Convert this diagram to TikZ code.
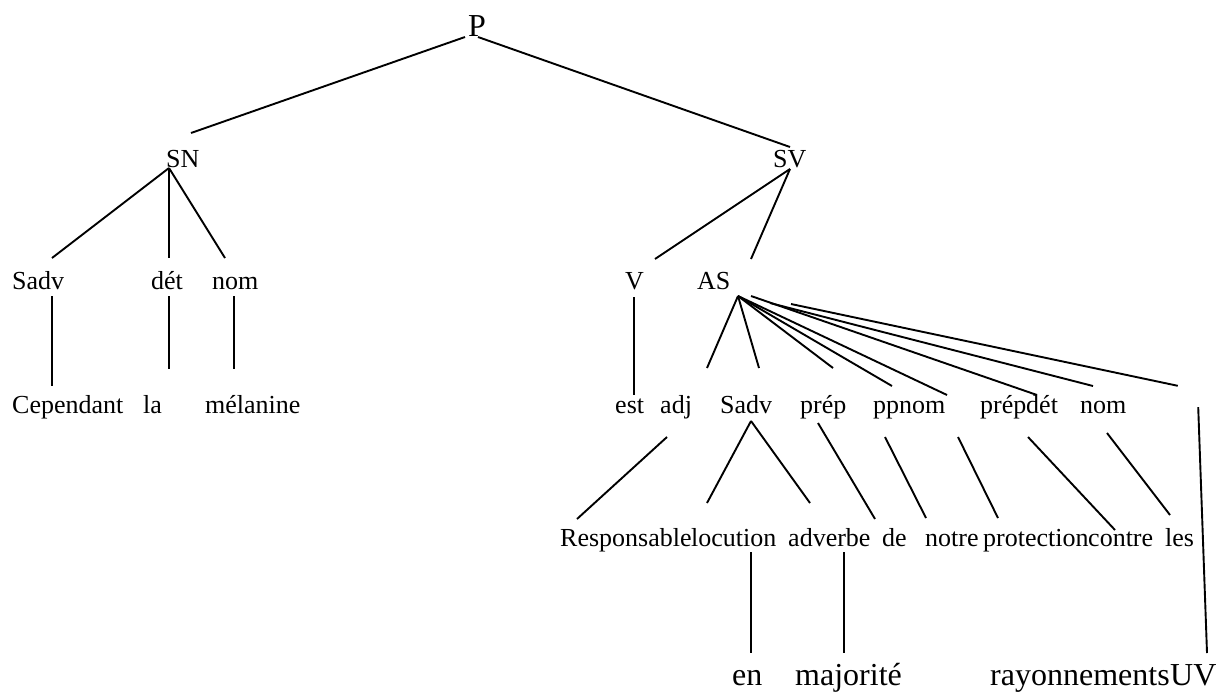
\documentclass[tikz,border=0pt]{standalone}
\usepackage{fontspec}
\setmainfont{Liberation Serif}
\usetikzlibrary{calc}

\tikzset{
  mot/.style={anchor=base west, inner sep=0pt, font=\fontsize{26}{30}\selectfont},
  gros/.style={mot, font=\fontsize{32}{38}\selectfont},
  branche/.style={line width=1.9pt}
}

\begin{document}
\begin{tikzpicture}[x=1pt, y=-1pt]
        \useasboundingbox (0,0) rectangle (1220,691);

        % Nodes at the top (P, SN, SV)
        \node (P) [gros] at (468,36) {P};
        \node (SN) [mot] at (166,167) {SN};
        \node (SV) [mot] at (773,167) {SV};

        % Nodes of the second row
        \node (sadv) [mot] at (12,289) {Sadv};
        \node (det) [mot] at (151,289) {dét};
        \node (nom) [mot] at (212,289) {nom};
        \node (V) [mot] at (625,289) {V};
        \node (AS) [mot] at (697,289) {AS};

        % Nodes of the third row
        \node (cependant) [mot] at (12,413) {Cependant};
        \node (la) [mot] at (143,413) {la};
        \node (melanine) [mot] at (205,413) {mélanine};
        \node (est) [mot] at (615,413) {est};
        \node (adj) [mot] at (660,413) {adj};
        \node (sadvb) [mot] at (720,413) {Sadv};
        \node (prep) [mot] at (800,413) {prép};
        \node (pp) [mot] at (873,413) {pp};
        \node (nomb) [mot] at (899,413) {nom};
        \node (prepb) [mot] at (980,413) {prép};
        \node (detb) [mot] at (1026,413) {dét};
        \node (nomc) [mot] at (1080,413) {nom};
        \node (vide) [inner sep=0pt, minimum width=20pt, minimum height=21pt] at (1188,396.5) {};

        % Nodes of the fourth row
        \node (resp) [mot] at (560,546) {Responsable};
        \node (locution) [mot] at (691,546) {locution};
        \node (adverbe) [mot] at (788,546) {adverbe};
        \node (de) [mot] at (882,546) {de};
        \node (notre) [mot] at (925,546) {notre};
        \node (protection) [mot] at (983,546) {protection};
        \node (contre) [mot] at (1088,546) {contre};
        \node (les) [mot] at (1165,546) {les};

        % Nodes at the bottom
        \node (en) [gros] at (732,685) {en};
        \node (majorite) [gros] at (795,685) {majorité};
        \node (rayon) [gros] at (990,685) {rayonnements};
        \node (UV) [gros] at (1170,685) {UV};

        % Edges
        \draw [branche] ($(P.base west)+(-3,1)$) -- ($(SN.base west)+(25,-34)$);
        \draw [branche] ($(P.base west)+(10,1)$) -- ($(SV.base west)+(17,-20)$);

        \draw [branche] ($(SN.base west)+(3,1)$) -- ($(sadv.base west)+(40,-31)$);
        \draw [branche] ($(SN.base west)+(3,1)$) -- ($(det.base west)+(18,-31)$);
        \draw [branche] ($(SN.base west)+(3,1)$) -- ($(nom.base west)+(13,-31)$);
        \draw [branche] ($(sadv.base west)+(40,7)$) -- ($(cependant.base west)+(40,-27)$);
        \draw [branche] ($(det.base west)+(18,7)$) -- ($(la.base west)+(26,-44)$);
        \draw [branche] ($(nom.base west)+(22,7)$) -- ($(melanine.base west)+(29,-44)$);

        \draw [branche] ($(SV.base west)+(17,2)$) -- ($(V.base west)+(30,-30)$);
        \draw [branche] ($(SV.base west)+(17,2)$) -- ($(AS.base west)+(54,-30)$);
        \draw [branche] ($(V.base west)+(9,8)$) -- ($(est.base west)+(19,-18)$);

        \draw [branche] ($(AS.base west)+(41,7)$) -- ($(adj.base west)+(47,-45)$);
        \draw [branche] ($(AS.base west)+(41,7)$) -- ($(sadvb.base west)+(39,-45)$);
        \draw [branche] ($(AS.base west)+(41,7)$) -- ($(prep.base west)+(33,-45)$);
        \draw [branche] ($(AS.base west)+(41,7)$) -- ($(pp.base west)+(19,-27)$);
        \draw [branche] ($(AS.base west)+(41,7)$) -- ($(nomb.base west)+(48,-18)$);
        \draw [branche] ($(AS.base west)+(54,7)$) -- ($(prepb.base west)+(57,-18)$);
        \draw [branche] ($(AS.base west)+(73,14)$) -- ($(detb.base west)+(67,-27)$);
        \draw [branche] ($(AS.base west)+(94,15)$) -- (vide.north west);

        \draw [branche] ($(adj.base west)+(7,24)$) -- ($(resp.base west)+(17,-27)$);
        \draw [branche] ($(sadvb.base west)+(31,8)$) -- ($(locution.base west)+(16,-43)$);
        \draw [branche] ($(sadvb.base west)+(31,8)$) -- ($(adverbe.base west)+(22,-43)$);
        \draw [branche] ($(prep.base west)+(18,10)$) -- ($(de.base west)+(-7,-27)$);
        \draw [branche] ($(pp.base west)+(12,24)$) -- ($(notre.base west)+(1,-28)$);
        \draw [branche] ($(nomb.base west)+(59,24)$) -- ($(protection.base west)+(15,-28)$);
        \draw [branche] ($(prepb.base west)+(48,24)$) -- ($(contre.base west)+(27,-16)$);
        \draw [branche] ($(nomc.base west)+(27,20)$) -- ($(les.base west)+(5,-31)$);
        \draw [branche] (vide.south east) -- ($(UV.base west)+(37,-32)$);

        \draw [branche] ($(locution.base west)+(60,6)$) -- ($(en.base west)+(19,-32)$);
        \draw [branche] ($(adverbe.base west)+(56,6)$) -- ($(majorite.base west)+(49,-32)$);

    \end{tikzpicture}
\end{document}
